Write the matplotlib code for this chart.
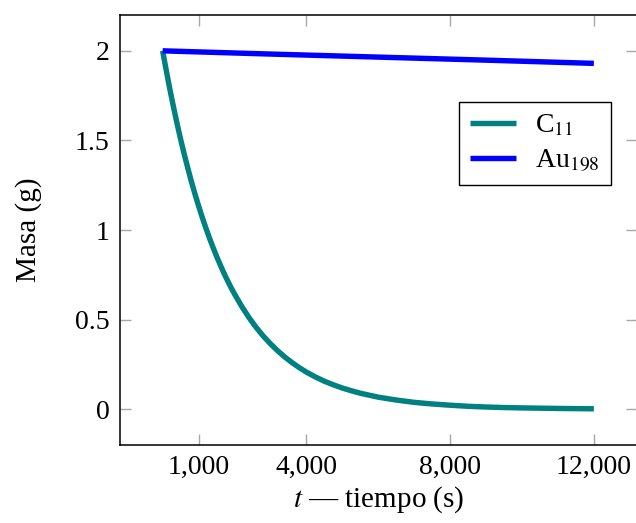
import matplotlib
matplotlib.use("Agg")
import matplotlib.pyplot as plt
from matplotlib.ticker import FixedLocator, FuncFormatter

# Data
t_c11 = [0, 100, 200, 300, 400, 500, 600, 700, 800, 900, 1000, 1100, 1200, 1300, 1400,
         1500, 1600, 1700, 1800, 1900, 2000, 2200, 2400, 2600, 2800, 3000, 3200, 3400,
         3600, 3800, 4000, 4250, 4500, 4750, 5000, 5250, 5500, 5750, 6000, 6500, 7000,
         7500, 8000, 8500, 9000, 9500, 10000, 11000, 12000]
m_c11 = [2.000, 1.892, 1.787, 1.689, 1.596, 1.507, 1.424, 1.346, 1.271, 1.201, 1.135,
         1.072, 1.013, 0.957, 0.904, 0.854, 0.807, 0.762, 0.720, 0.680, 0.643, 0.574,
         0.512, 0.457, 0.408, 0.365, 0.326, 0.291, 0.260, 0.232, 0.207, 0.180, 0.156,
         0.136, 0.118, 0.103, 0.089, 0.078, 0.067, 0.051, 0.038, 0.029, 0.022, 0.016,
         0.012, 0.009, 0.007, 0.004, 0.002]
t_au = [0, 3000, 6000, 9000, 12000]
m_au = [2.000, 1.982, 1.965, 1.948, 1.930]

x_ticks = [1000, 4000, 8000, 12000]
y_ticks = [0, 0.5, 1, 1.5, 2]

plt.rcParams['font.family'] = ['Liberation Serif', 'DejaVu Serif']
plt.rcParams['mathtext.fontset'] = 'stix'

fig = plt.figure(figsize=(6.36, 5.23), dpi=100)
ax = fig.add_axes([119.5/636, 1-445/523, 517.5/636, 430/523])

ax.plot(t_c11, m_c11, color=(0, 0.5, 0.5), lw=3.9, label=r'C$_{11}$', solid_capstyle='butt')
ax.plot(t_au, m_au, color=(0, 0, 1), lw=3.9, label=r'Au$_{198}$', solid_capstyle='butt')

ax.set_xlim(-1200, 13200)
ax.set_ylim(-0.2, 2.2)
ax.xaxis.set_major_locator(FixedLocator(x_ticks))
ax.yaxis.set_major_locator(FixedLocator(y_ticks))
ax.xaxis.set_major_formatter(FuncFormatter(lambda v, p: f"{int(v):,}"))
ax.yaxis.set_major_formatter(FuncFormatter(lambda v, p: f"{v:g}"))
ax.tick_params(direction='in', length=8, width=1.0, color='#a8a8a8', labelsize=20,
               top=True, right=True, pad=7)
for s in ax.spines.values():
    s.set_linewidth(1.1)

ax.set_xlabel(r'$t$ — tiempo (s)', fontsize=21, labelpad=3)
ax.set_ylabel('Masa (g)', fontsize=21, labelpad=24)

leg = ax.legend(loc='upper right', bbox_to_anchor=(0.9498, 0.7977),
                fontsize=20, frameon=True, fancybox=False, edgecolor='black', framealpha=1,
                handlelength=1.65, borderpad=0.4, labelspacing=0.3, handletextpad=0.7,
                borderaxespad=0)
leg.get_frame().set_linewidth(1.0)

fig.savefig('out.png', dpi=100)
